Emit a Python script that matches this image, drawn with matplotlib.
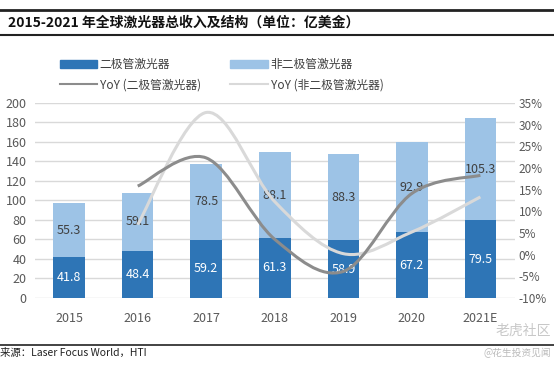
import matplotlib.pyplot as plt
import numpy as np
from matplotlib.lines import Line2D
from matplotlib.patches import PathPatch, Patch
from matplotlib.path import Path

plt.rcParams['font.family'] = ['Noto Sans CJK SC', 'DejaVu Sans']

years = ["2015", "2016", "2017", "2018", "2019", "2020", "2021E"]
diode = [41.8, 48.4, 59.2, 61.3, 58.9, 67.2, 79.5]
non_diode = [55.3, 59.1, 78.5, 88.1, 88.3, 92.9, 105.3]
yoy_diode = [15.8, 22.3, 3.5, -3.9, 14.1, 18.3]        # 2016-2021E, %
yoy_non_diode = [6.9, 32.8, 12.2, 0.2, 5.2, 13.3]     # 2016-2021E, %

C_DARK = "#2E75B6"
C_LIGHT = "#9DC3E6"
C_YOY1 = "#8C8C8C"
C_YOY2 = "#D9D9D9"


def smooth_path(xs, ys, t=1 / 6):
    # Excel-style smoothed line as cubic bezier segments
    pts = np.column_stack([xs, ys]).astype(float)
    n = len(pts)
    verts = [pts[0]]
    codes = [Path.MOVETO]
    for i in range(n - 1):
        p_prev = pts[i - 1] if i > 0 else pts[i]
        p_next2 = pts[i + 2] if i + 2 < n else pts[i + 1]
        c1 = pts[i] + (pts[i + 1] - p_prev) * t
        c2 = pts[i + 1] - (p_next2 - pts[i]) * t
        verts += [c1, c2, pts[i + 1]]
        codes += [Path.CURVE4] * 3
    return Path(verts, codes)


fig = plt.figure(figsize=(5.54, 3.65), dpi=100)
ax = fig.add_axes([0.063, 0.184, 0.866, 0.534])
ax2 = ax.twinx()

x = np.arange(len(years))
ax.bar(x, diode, width=0.46, color=C_DARK, zorder=2)
ax.bar(x, non_diode, width=0.46, bottom=diode, color=C_LIGHT, zorder=2)
for xi, d, nd in zip(x, diode, non_diode):
    ax.text(xi, d / 2, f"{d}", ha="center", va="center", color="white", fontsize=9)
    ax.text(xi, d + nd / 2, f"{nd}", ha="center", va="center", color="#404040", fontsize=9)

ax.set_xlim(-0.5, len(years) - 0.5)
ax.set_ylim(0, 200)
ax.set_yticks(range(0, 201, 20))
ax.set_xticks(x)
ax.set_xticklabels(years)
ax.yaxis.grid(True, color="#D9D9D9", linewidth=1, zorder=0)
ax.set_axisbelow(True)
for s in ax.spines.values():
    s.set_visible(False)
for s in ax2.spines.values():
    s.set_visible(False)
ax.tick_params(axis="both", length=0, labelsize=9, colors="#595959")
ax.tick_params(axis="y", pad=6)
ax.tick_params(axis="x", pad=10)

ax2.set_ylim(-10, 35)
ax2.set_yticks(range(-10, 36, 5))
ax2.set_yticklabels([f"{v}%" for v in range(-10, 36, 5)])
ax2.tick_params(axis="y", length=0, labelsize=8.5, colors="#595959", pad=3)

xl = x[1:]
ax2.add_patch(PathPatch(smooth_path(xl, yoy_non_diode), fill=False,
                        edgecolor=C_YOY2, linewidth=2.2, zorder=3))
ax2.add_patch(PathPatch(smooth_path(xl, yoy_diode), fill=False,
                        edgecolor=C_YOY1, linewidth=2.2, zorder=4))

handles = [Patch(color=C_DARK), Line2D([], [], color=C_YOY1, lw=1.5),
           Patch(color=C_LIGHT), Line2D([], [], color=C_YOY2, lw=1.5)]
labels = ["二极管激光器", "YoY (二极管激光器)", "非二极管激光器", "YoY (非二极管激光器)"]
fig.legend(handles, labels, ncol=2, loc="center", bbox_to_anchor=(0.4, 0.795),
           frameon=False, fontsize=8.5, handlelength=3.2, handleheight=0.6,
           columnspacing=2.5, handletextpad=0.2, labelspacing=0.6,
           labelcolor="#404040")

# title and rules
fig.add_artist(Line2D([0, 1], [0.972, 0.972], color="#222222", lw=2))
fig.add_artist(Line2D([0, 1], [0.903, 0.903], color="#222222", lw=1.5))
fig.text(0.014, 0.937, "2015-2021 年全球激光器总收入及结构（单位：亿美金）",
         fontsize=10, fontweight="bold", va="center", ha="left", color="#111111")

# source footer
fig.add_artist(Line2D([0, 1], [0.055, 0.055], color="#222222", lw=1.2))
fig.text(0.0, 0.033, "来源：Laser Focus World，HTI", fontsize=7.5, va="center",
         ha="left", color="#222222")
fig.text(0.995, 0.095, "老虎社区", fontsize=10, va="center", ha="right", color="#C8C8C8")
fig.text(0.995, 0.033, "@花生投资见闻", fontsize=7, va="center", ha="right", color="#BBBBBB")

fig.savefig("out.png", dpi=100)
